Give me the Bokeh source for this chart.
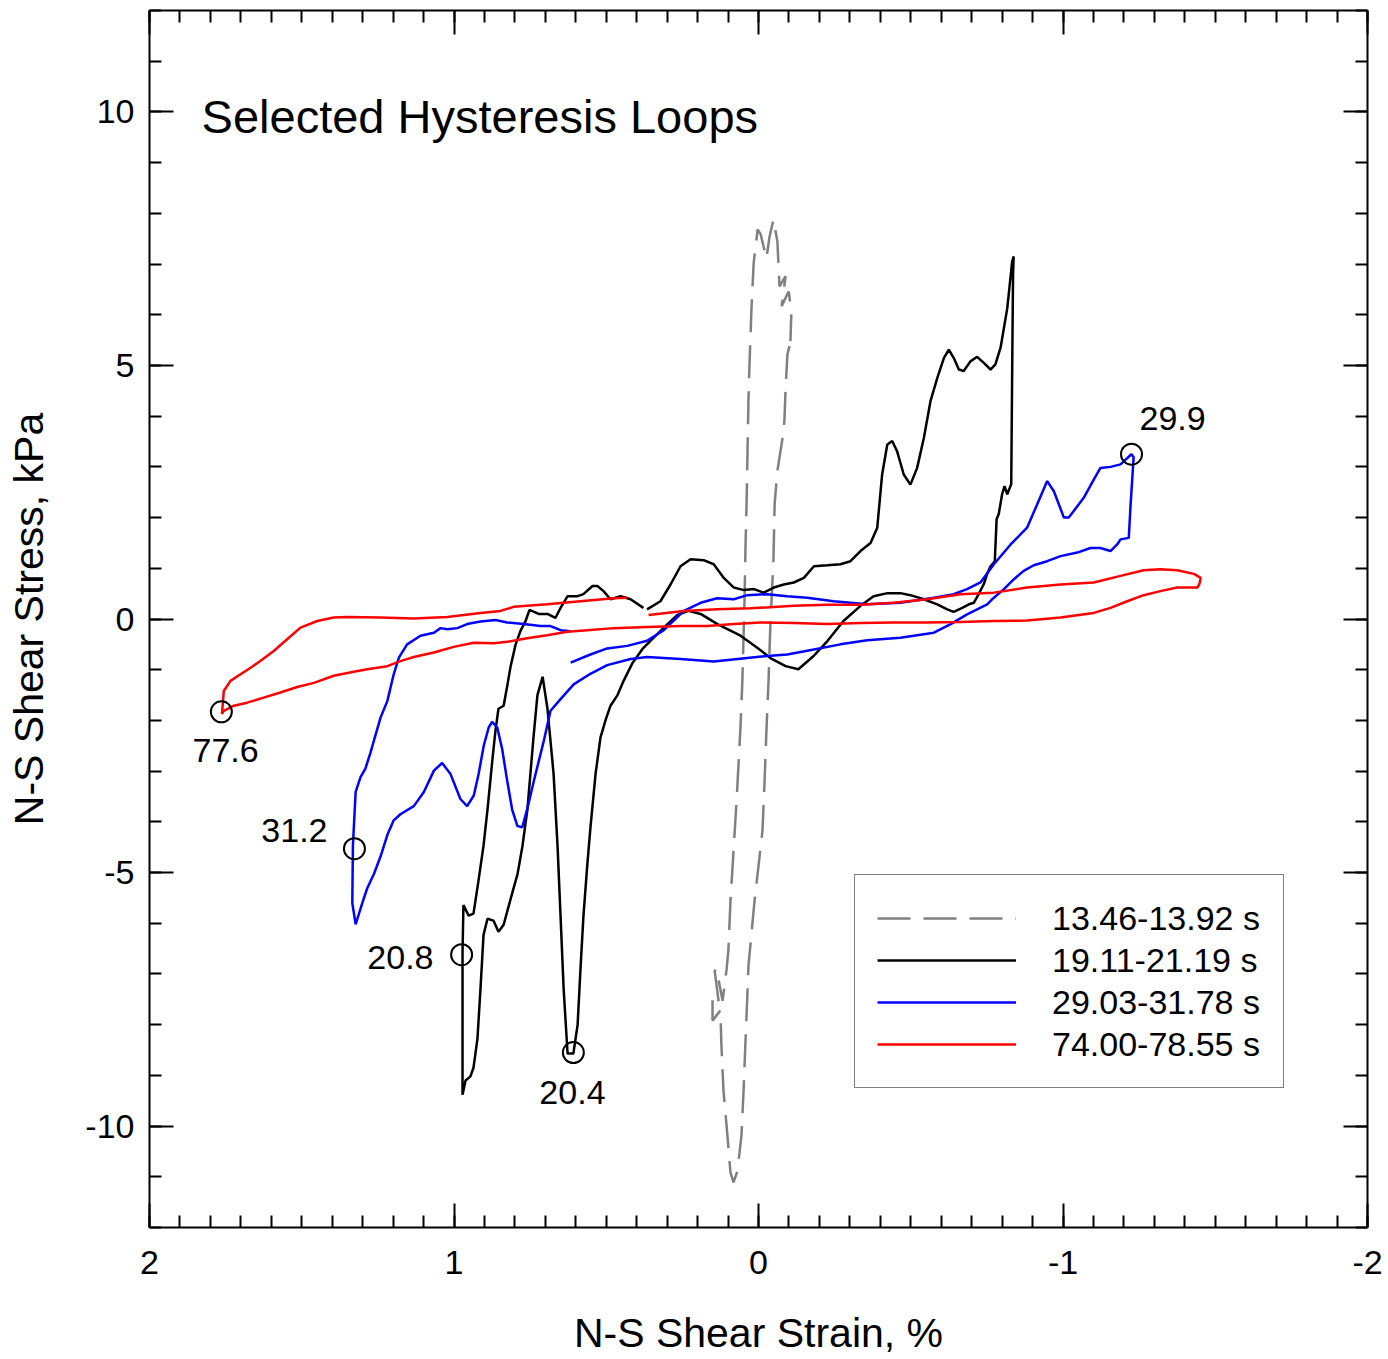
from bokeh.plotting import figure
from bokeh.models import Range1d, LinearAxis, FixedTicker, Legend, LegendItem
from bokeh.core.properties import value
from bokeh.embed import file_html
from bokeh.resources import INLINE

FONT = "Liberation Sans"

# ---------------- data (strain %, stress kPa) ----------------
gray_strain = [-0.102, -0.095, -0.089, -0.085, -0.079, -0.062, -0.053, -0.049, -0.039, -0.033,
               -0.026, -0.020, -0.013, 0.013, 0.033, 0.036, 0.043, 0.049, 0.056, 0.069,
               0.082, 0.092, 0.102, 0.115, 0.122, 0.125, 0.151, 0.151, 0.131, 0.144,
               0.138, 0.118, 0.105, 0.099, 0.092, 0.082, 0.072, 0.059, 0.053, 0.046,
               0.043, 0.039, 0.036, 0.033, 0.030, 0.023, 0.016, 0.003, -0.007, -0.026,
               -0.036, -0.049, -0.062, -0.069, -0.089, -0.076, -0.099, -0.108, -0.105]
gray_stress = [5.38, 5.22, 4.55, 3.90, 3.57, 2.92, 2.27, 1.14, -0.10, -1.22,
               -2.21, -3.19, -4.18, -5.56, -6.84, -7.33, -8.37, -9.30, -10.19, -10.88,
               -11.11, -10.92, -10.19, -9.30, -8.37, -7.72, -7.92, -7.41, -7.53, -6.94,
               -6.90, -7.53, -6.92, -6.54, -5.56, -4.57, -3.59, -2.11, -1.22, 0.35,
               1.34, 2.33, 3.31, 4.30, 4.95, 6.13, 7.01, 7.68, 7.59, 7.11,
               7.53, 7.88, 7.45, 6.56, 6.76, 6.17, 6.46, 6.07, 5.48]

black_strain = [0.366, 0.322, 0.289, 0.256, 0.223, 0.180, 0.147, 0.114, 0.081, 0.048,
                0.015, -0.017, -0.050, -0.083, -0.116, -0.149, -0.182, -0.226, -0.269, -0.302,
                -0.335, -0.368, -0.390, -0.406, -0.423, -0.439, -0.455, -0.477, -0.499, -0.521,
                -0.543, -0.565, -0.587, -0.609, -0.625, -0.641, -0.658, -0.674, -0.696, -0.718,
                -0.740, -0.762, -0.778, -0.795, -0.817, -0.833, -0.838, -0.836, -0.833, -0.830,
                -0.817, -0.808, -0.800, -0.789, -0.782, -0.776, -0.762, -0.751, -0.740, -0.723,
                -0.707, -0.691, -0.669, -0.641, -0.620, -0.587, -0.543, -0.499, -0.466, -0.424,
                -0.378, -0.335, -0.279, -0.227, -0.181, -0.131, -0.089, -0.039, 0.003, 0.059,
                0.135, 0.190, 0.230, 0.266, 0.299, 0.355, 0.381, 0.414, 0.443, 0.463,
                0.486, 0.502, 0.519, 0.535, 0.552, 0.562, 0.575, 0.585, 0.594, 0.608,
                0.627, 0.640, 0.650, 0.660, 0.673, 0.693, 0.709, 0.726, 0.739, 0.749,
                0.759, 0.775, 0.791, 0.814, 0.837, 0.854, 0.870, 0.890, 0.903, 0.913,
                0.923, 0.936, 0.946, 0.962, 0.972, 0.972, 0.972, 0.969, 0.952, 0.936,
                0.920, 0.903, 0.890, 0.874, 0.864, 0.854, 0.837, 0.824, 0.814, 0.798,
                0.782, 0.765, 0.752, 0.722, 0.693, 0.667, 0.650, 0.627, 0.594, 0.575,
                0.545, 0.529, 0.509, 0.486, 0.453, 0.420, 0.378]
black_stress = [0.19, 0.35, 0.68, 1.04, 1.18, 1.16, 1.08, 0.81, 0.62, 0.57,
                0.59, 0.52, 0.62, 0.68, 0.72, 0.81, 1.04, 1.06, 1.08, 1.14,
                1.34, 1.50, 1.80, 2.85, 3.44, 3.51, 3.31, 2.85, 2.65, 2.98,
                3.57, 4.30, 4.75, 5.15, 5.31, 5.15, 4.92, 4.89, 5.08, 5.17,
                5.05, 4.92, 5.02, 5.35, 6.13, 7.05, 7.15, 6.80, 4.83, 2.66,
                2.46, 2.62, 2.46, 2.07, 1.97, 1.14, 1.04, 0.89, 0.69, 0.49,
                0.32, 0.29, 0.22, 0.14, 0.19, 0.29, 0.39, 0.47, 0.51, 0.51,
                0.45, 0.26, -0.04, -0.43, -0.73, -0.99, -0.93, -0.77, -0.57, -0.33,
                -0.10, 0.10, 0.16, 0.08, -0.10, -0.43, -0.59, -0.87, -1.22, -1.50,
                -1.71, -1.99, -2.34, -3.05, -4.12, -4.83, -5.87, -6.94, -8.00, -8.57,
                -8.57, -7.29, -5.87, -4.47, -3.05, -1.77, -1.14, -1.50, -2.34, -3.05,
                -3.76, -4.47, -5.02, -5.52, -6.03, -6.17, -5.95, -5.91, -6.23, -7.29,
                -8.28, -8.85, -9.02, -9.10, -9.38, -8.00, -6.58, -5.64, -5.85, -5.81,
                -5.18, -4.47, -3.76, -2.78, -2.21, -1.77, -1.71, -1.28, -0.93, -0.51,
                -0.24, -0.04, 0.18, 0.10, 0.10, 0.02, 0.22, 0.45, 0.45, 0.49,
                0.65, 0.65, 0.55, 0.39, 0.45, 0.39, 0.22]

blue_strain = [0.617, 0.552, 0.497, 0.431, 0.366, 0.311, 0.245, 0.190, 0.136, 0.081,
               0.037, -0.029, -0.094, -0.160, -0.247, -0.357, -0.466, -0.576, -0.641, -0.685,
               -0.729, -0.773, -0.828, -0.882, -0.915, -0.948, -0.970, -1.003, -1.019, -1.068,
               -1.101, -1.123, -1.156, -1.189, -1.225, -1.232, -1.222, -1.216, -1.189, -1.178,
               -1.156, -1.123, -1.090, -1.047, -0.992, -0.948, -0.904, -0.871, -0.838, -0.806,
               -0.773, -0.751, -0.685, -0.631, -0.576, -0.466, -0.357, -0.269, -0.182, -0.094,
               -0.029, 0.037, 0.147, 0.256, 0.366, 0.420, 0.497, 0.552, 0.607, 0.650,
               0.683, 0.705, 0.738, 0.760, 0.776, 0.792, 0.809, 0.825, 0.842, 0.858,
               0.875, 0.886, 0.902, 0.919, 0.935, 0.957, 0.979, 1.012, 1.039, 1.066,
               1.099, 1.132, 1.176, 1.198, 1.219, 1.241, 1.263, 1.285, 1.301, 1.323,
               1.334, 1.332, 1.323, 1.307, 1.291, 1.274, 1.263, 1.241, 1.219, 1.198,
               1.181, 1.154, 1.110, 1.066, 1.044, 1.022, 0.989, 0.957, 0.913, 0.864,
               0.825, 0.771, 0.716, 0.683, 0.650, 0.617]
blue_stress = [-0.86, -0.70, -0.58, -0.53, -0.43, -0.22, 0.16, 0.32, 0.41, 0.39,
               0.47, 0.49, 0.45, 0.42, 0.35, 0.29, 0.32, 0.42, 0.49, 0.59,
               0.72, 1.08, 1.47, 1.80, 2.26, 2.72, 2.52, 2.00, 2.00, 2.39,
               2.75, 2.98, 3.00, 3.05, 3.25, 3.19, 2.26, 1.60, 1.57, 1.47,
               1.34, 1.40, 1.40, 1.31, 1.24, 1.14, 1.06, 0.95, 0.78, 0.59,
               0.42, 0.29, 0.09, -0.10, -0.27, -0.37, -0.42, -0.50, -0.60, -0.70,
               -0.73, -0.77, -0.84, -0.79, -0.75, -0.79, -0.91, -1.08, -1.29, -1.58,
               -1.81, -2.40, -3.20, -3.76, -4.11, -4.08, -3.76, -3.20, -2.56, -2.14,
               -2.03, -2.14, -2.49, -3.05, -3.48, -3.69, -3.55, -3.05, -2.84, -2.99,
               -3.41, -3.69, -3.85, -3.97, -4.26, -4.68, -5.03, -5.31, -5.60, -6.02,
               -5.60, -4.47, -3.41, -3.12, -2.95, -2.63, -2.40, -1.94, -1.62, -1.09,
               -0.76, -0.50, -0.33, -0.27, -0.18, -0.20, -0.18, -0.10, -0.05, -0.02,
               -0.07, -0.10, -0.14, -0.14, -0.22, -0.24]

red_strain = [0.361, 0.245, 0.136, 0.026, -0.116, -0.226, -0.335, -0.444, -0.554, -0.663,
              -0.773, -0.882, -0.992, -1.101, -1.189, -1.265, -1.320, -1.375, -1.430, -1.452,
              -1.448, -1.441, -1.375, -1.320, -1.265, -1.211, -1.156, -1.101, -0.992, -0.882,
              -0.773, -0.663, -0.554, -0.444, -0.335, -0.226, -0.116, -0.007, 0.081, 0.168,
              0.256, 0.366, 0.475, 0.563, 0.628, 0.694, 0.760, 0.825, 0.869, 0.935,
              1.001, 1.066, 1.132, 1.176, 1.219, 1.285, 1.329, 1.395, 1.460, 1.515,
              1.570, 1.625, 1.679, 1.723, 1.756, 1.762, 1.756, 1.734, 1.701, 1.668,
              1.636, 1.592, 1.548, 1.504, 1.449, 1.395, 1.351, 1.241, 1.132, 1.022,
              0.913, 0.847, 0.804, 0.694, 0.585, 0.475, 0.431]
red_stress = [0.08, 0.16, 0.19, 0.21, 0.26, 0.28, 0.28, 0.32, 0.39, 0.49,
              0.52, 0.62, 0.68, 0.72, 0.85, 0.96, 0.98, 0.96, 0.89, 0.81,
              0.69, 0.62, 0.62, 0.55, 0.47, 0.35, 0.22, 0.12, 0.03, -0.03,
              -0.04, -0.06, -0.07, -0.07, -0.08, -0.10, -0.08, -0.07, -0.10, -0.14,
              -0.14, -0.16, -0.18, -0.22, -0.25, -0.32, -0.38, -0.45, -0.48, -0.47,
              -0.55, -0.66, -0.75, -0.83, -0.93, -0.99, -1.04, -1.12, -1.26, -1.34,
              -1.45, -1.55, -1.65, -1.71, -1.81, -1.87, -1.42, -1.22, -1.09, -0.96,
              -0.83, -0.63, -0.40, -0.17, -0.04, 0.03, 0.04, 0.03, 0.01, 0.04,
              0.12, 0.16, 0.24, 0.29, 0.35, 0.41, 0.42]

series_labels = ["13.46-13.92 s", "19.11-21.19 s", "29.03-31.78 s", "74.00-78.55 s"]

# time markers (s)
marker_strain = [-1.225, 1.764, 1.327, 0.975, 0.608]
marker_stress = [3.25, -1.83, -4.53, -6.62, -8.55]
marker_text = ["29.9", "77.6", "31.2", "20.8", "20.4"]
marker_text_strain = [-1.360, 1.750, 1.524, 1.176, 0.611]
marker_text_stress = [3.96, -2.60, -4.18, -6.68, -9.34]

x_major = [2, 1, 0, -1, -2]
x_major_labels = ["2", "1", "0", "-1", "-2"]
y_major = [-10, -5, 0, 5, 10]
y_major_labels = ["-10", "-5", "0", "5", "10"]

title_text = "Selected Hysteresis Loops"
x_title = "N-S Shear Strain, %"
y_title = "N-S Shear Stress, kPa"

# ---------------- figure ----------------
W, H = 1386, 1359
FL, FT, FW, FH = 149, 10, 1218, 1217
p = figure(width=W, height=H, output_backend="svg", toolbar_location=None,
           x_range=Range1d(2, -2), y_range=Range1d(-12, 12),
           min_border_left=FL, min_border_right=W - FL - FW,
           min_border_top=FT, min_border_bottom=H - FT - FH,
           x_axis_location=None, y_axis_location=None)
p.xgrid.visible = False
p.ygrid.visible = False
p.outline_line_color = None
p.background_fill_color = "white"
p.border_fill_color = "white"

x_minor = [round(-2 + 0.1 * i, 2) for i in range(41)]
y_minor = list(range(-12, 13))


def base_axis(ax):
    ax.axis_line_width = 2
    ax.axis_line_color = "black"
    ax.major_tick_line_width = 2
    ax.minor_tick_line_width = 2
    ax.major_tick_in = 24
    ax.major_tick_out = 0
    ax.minor_tick_in = 12
    ax.minor_tick_out = 0
    ax.major_label_text_font = FONT
    ax.major_label_text_color = "black"
    ax.axis_label_text_font = FONT
    ax.axis_label_text_font_style = "normal"
    ax.axis_label_text_color = "black"
    ax.axis_label_text_font_size = "41px"
    return ax


def labelled_axis(ticks, minor, labels, standoff, title, title_standoff):
    ax = base_axis(LinearAxis(ticker=FixedTicker(ticks=ticks, minor_ticks=minor)))
    ax.major_label_text_font_size = "34px"
    ax.major_label_overrides = {t: s for t, s in zip(ticks, labels)}
    ax.major_label_standoff = standoff
    ax.axis_label = title
    ax.axis_label_standoff = title_standoff
    return ax


def mirror_axes(ticks, minor):
    # two label-free axes: short ticks everywhere, long ticks at the major positions
    a1 = base_axis(LinearAxis(ticker=FixedTicker(ticks=[], minor_ticks=minor)))
    a1.major_label_standoff = 0
    a2 = base_axis(LinearAxis(ticker=FixedTicker(ticks=[], minor_ticks=ticks)))
    a2.major_label_standoff = 0
    a2.minor_tick_in = 24
    a2.axis_line_color = None
    return a1, a2


xb = labelled_axis(x_major, x_minor, x_major_labels, 23, x_title, 33)
yl = labelled_axis(y_major, y_minor, y_major_labels, 15, y_title, 30)
p.add_layout(xb, "below")
p.add_layout(yl, "left")
for ax in mirror_axes(x_major, x_minor):
    p.add_layout(ax, "above")
for ax in mirror_axes(y_major, y_minor):
    p.add_layout(ax, "right")

LW = 2.5
r_gray = p.line(gray_strain, gray_stress, line_color="#808080", line_width=LW, line_dash="33 13")
r_black = p.line(black_strain, black_stress, line_color="black", line_width=LW)
r_blue = p.line(blue_strain, blue_stress, line_color="#0000ff", line_width=LW)
r_red = p.line(red_strain, red_stress, line_color="#ff0000", line_width=LW)

p.scatter(marker_strain, marker_stress, marker="circle", size=21,
          fill_color=None, line_color="black", line_width=2)
p.text(marker_text_strain, marker_text_stress, text=marker_text,
       text_font=value(FONT), text_font_size=value("34px"), text_color="black",
       text_align="center", text_baseline="middle")

p.text([1.829], [9.91], text=[title_text],
       text_font=value(FONT), text_font_size=value("47px"), text_color="black",
       text_align="left", text_baseline="middle")

legend = Legend(items=[LegendItem(label=series_labels[0], renderers=[r_gray]),
                       LegendItem(label=series_labels[1], renderers=[r_black]),
                       LegendItem(label=series_labels[2], renderers=[r_blue]),
                       LegendItem(label=series_labels[3], renderers=[r_red])],
                location=(705, 139))
legend.border_line_color = "black"
legend.border_line_width = 1.5
legend.background_fill_color = "white"
legend.background_fill_alpha = 1
legend.padding = 22
legend.spacing = 0
legend.margin = 0
legend.glyph_width = 139
legend.glyph_height = 42
legend.label_height = 42
legend.label_width = 209
legend.label_standoff = 36
legend.label_text_font = FONT
legend.label_text_font_size = "34px"
legend.label_text_color = "black"
p.add_layout(legend)

open("out.html", "w").write(file_html(p, INLINE))
